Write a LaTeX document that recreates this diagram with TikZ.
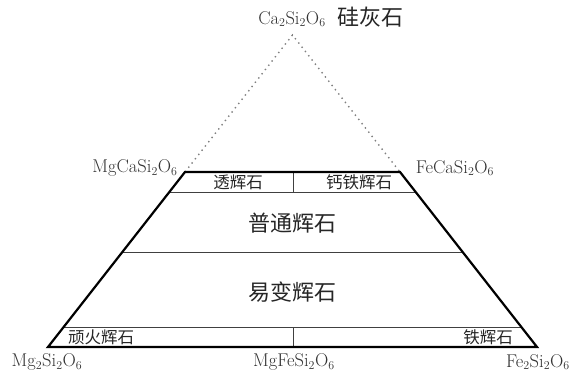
\documentclass[tikz,border=0pt]{standalone}
\usepackage{fontspec}
\newfontfamily\cjk{Noto Sans CJK SC}
\usetikzlibrary{calc}
\begin{document}
\begin{tikzpicture}[x=1pt,y=-1pt,
  outline/.style={line width=2.2pt,line join=miter,black},
  thinline/.style={line width=0.7pt,black!75},
  dotline/.style={line width=1.4pt,dash pattern=on 1.4pt off 4pt,black!50},
  formula/.style={inner sep=0pt,text=black!80,font=\fontsize{18.5}{20}\selectfont},
  bigcn/.style={inner sep=0pt,text=black!85,font=\cjk\fontsize{22}{24}\selectfont},
  smallcn/.style={inner sep=0pt,text=black!85,font=\cjk\fontsize{16.5}{18}\selectfont}]
\useasboundingbox (0,0) rectangle (575,371);
\coordinate (A) at (292.5,35);
\coordinate (TL) at (185,172);
\coordinate (TR) at (400,172);
\coordinate (BL) at (48,347);
\coordinate (BR) at (537,347);
\coordinate (L1) at ($(TL)!0.1143!(BL)$);
\coordinate (R1) at ($(TR)!0.1143!(BR)$);
\coordinate (L2) at ($(TL)!0.457!(BL)$);
\coordinate (R2) at ($(TR)!0.457!(BR)$);
\coordinate (L3) at ($(TL)!0.8857!(BL)$);
\coordinate (R3) at ($(TR)!0.8857!(BR)$);
\coordinate (D1) at (293,172);
\coordinate (D2) at (293,192);
\coordinate (D3) at (293,327);
\coordinate (D4) at (293,347);
% dotted apex
\draw[dotline] (TL) -- (A) -- (TR);
% inner lines
\draw[thinline] (L1) -- (R1);
\draw[thinline] (L2) -- (R2);
\draw[thinline] (L3) -- (R3);
\draw[thinline] (D1) -- (D2);
\draw[thinline] (D3) -- (D4);
% outline
\draw[outline] (TL) -- (TR) -- (BR) -- (BL) -- cycle;
% labels
\node[formula] (ca) at (292,19) {Ca$_2$Si$_2$O$_6$};
\node[bigcn] (wo) at (370,17) {硅灰石};
\node[formula] (mgca) at (135,168) {MgCaSi$_2$O$_6$};
\node[formula] (feca) at (455,168) {FeCaSi$_2$O$_6$};
\node[smallcn] (di) at (238,182) {透辉石};
\node[smallcn] (hd) at (359,182) {钙铁辉石};
\node[bigcn] (aug) at (292,223) {普通辉石};
\node[bigcn] (pig) at (292,292) {易变辉石};
\node[smallcn] (en) at (101,337) {顽火辉石};
\node[smallcn] (fs) at (488,337) {铁辉石};
\node[formula] (mg2) at (47,362) {Mg$_2$Si$_2$O$_6$};
\node[formula] (mgfe) at (294,362) {MgFeSi$_2$O$_6$};
\node[formula] (fe2) at (538,362) {Fe$_2$Si$_2$O$_6$};
\end{tikzpicture}
\end{document}
